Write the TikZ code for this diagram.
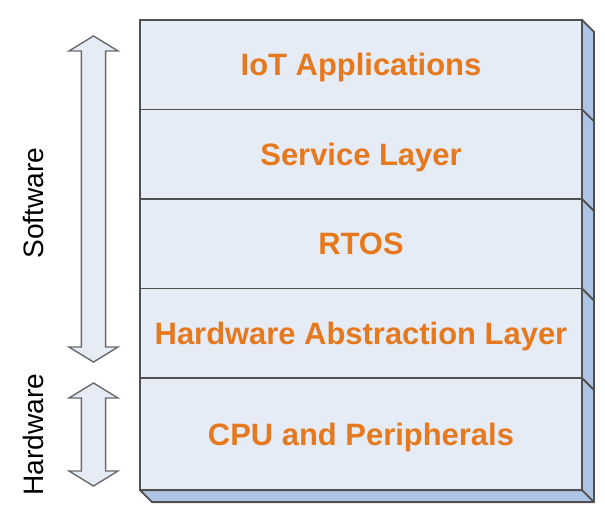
\documentclass[tikz,border=0pt]{standalone}
\usepackage{fontspec}
\setmainfont{Liberation Sans}
\usetikzlibrary{shapes.arrows,positioning,calc}
\definecolor{facefill}{RGB}{230,236,246}
\definecolor{sidefill}{RGB}{174,196,228}
\definecolor{edgegray}{RGB}{80,80,80}
\definecolor{layertext}{RGB}{230,120,30}
\tikzstyle{layer} = [draw=edgegray, fill=facefill, line width=1.3pt, outer sep=0pt, minimum width=11.05cm, minimum height=2.2375cm, inner sep=0pt, text height=15.75pt, text depth=0pt, text=layertext, font=\fontsize{22}{26}\selectfont\bfseries]
\tikzstyle{spanarrow} = [double arrow, draw=edgegray!85, fill=facefill, line width=1pt, minimum width=1.225cm, inner xsep=0pt, inner ysep=0.225cm, double arrow tip angle=117, rotate=90]
\tikzstyle{sidelabel} = [rotate=90, inner sep=0pt, font=\fontsize{20}{24}\selectfont]

\begin{document}
\begin{tikzpicture}[x=0.025cm, y=-0.025cm]
    \useasboundingbox (0,0) rectangle (605,511);
    %%%%% Layer stack %%%%%
    \node (app) [layer] at (361,64.75) {IoT Applications};
    \node (svc) [layer, below=0pt of app] {Service Layer};
    \node (rtos) [layer, below=0pt of svc] {RTOS};
    \node (hal) [layer, below=0pt of rtos] {Hardware Abstraction Layer};
    \node (cpu) [layer, minimum height=2.8cm, below=0pt of hal] {CPU and Peripherals};
    %%%%% Side and bottom faces %%%%%
    \draw [draw=edgegray, fill=sidefill, line width=1.3pt, line join=round] (app.north east) -- ++(12,12) -- ($(cpu.south east)+(12,12)$) -- ($(cpu.south west)+(12,12)$) -- (cpu.south west) -- (cpu.south east) -- cycle;
    \foreach \n in {svc,rtos,hal,cpu}
        \draw [draw=edgegray, line width=1.3pt] (\n.north east) -- ++(12,12);
    \draw [draw=edgegray, line width=1.3pt] (cpu.south east) -- ++(12,12);
    %%%%% Arrows %%%%%
    \node (soft) [spanarrow, minimum height=8.15cm] at (93.5,199) {};
    \node (hard) [spanarrow, minimum height=2.575cm] at (93.5,434.5) {};
    \node (softlbl) [sidelabel] at (33,203) {Software};
    \node (hardlbl) [sidelabel] at (33,434.5) {Hardware};
\end{tikzpicture}
\end{document}
